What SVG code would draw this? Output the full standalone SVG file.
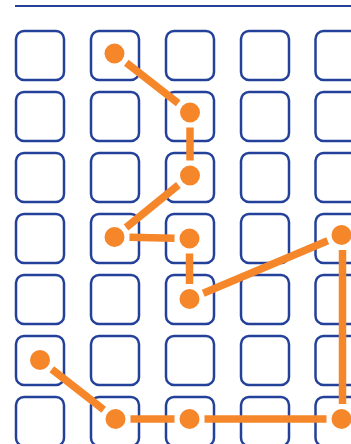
<svg xmlns="http://www.w3.org/2000/svg" width="351" height="444" viewBox="0 0 351 444">
<style>
.cell{fill:none;stroke:#24419a;stroke-width:2.5}
.seg{stroke:#f5862a;stroke-width:7.5;stroke-linecap:butt;fill:none}
.dot{fill:#f5862a}
</style>
<defs>
<rect id="c" width="48" height="49" rx="8" ry="8" class="cell"/>
</defs>
<rect width="351" height="444" fill="#fff"/>
<line x1="15" y1="6" x2="351" y2="6" stroke="#24419a" stroke-width="2.2"/>
<g id="grid">
<g id="row0"><use href="#c" x="16" y="31"/><use href="#c" x="91" y="31"/><use href="#c" x="166" y="31"/><use href="#c" x="241" y="31"/><use href="#c" x="315.5" y="31"/></g>
<g id="row1"><use href="#c" x="16" y="92"/><use href="#c" x="91" y="92"/><use href="#c" x="166" y="92"/><use href="#c" x="241" y="92"/><use href="#c" x="315.5" y="92"/></g>
<g id="row2"><use href="#c" x="16" y="153"/><use href="#c" x="91" y="153"/><use href="#c" x="166" y="153"/><use href="#c" x="241" y="153"/><use href="#c" x="315.5" y="153"/></g>
<g id="row3"><use href="#c" x="16" y="214"/><use href="#c" x="91" y="214"/><use href="#c" x="166" y="214"/><use href="#c" x="241" y="214"/><use href="#c" x="315.5" y="214"/></g>
<g id="row4"><use href="#c" x="16" y="275"/><use href="#c" x="91" y="275"/><use href="#c" x="166" y="275"/><use href="#c" x="241" y="275"/><use href="#c" x="315.5" y="275"/></g>
<g id="row5"><use href="#c" x="16" y="336"/><use href="#c" x="91" y="336"/><use href="#c" x="166" y="336"/><use href="#c" x="241" y="336"/><use href="#c" x="315.5" y="336"/></g>
<g id="row6"><use href="#c" x="16" y="397"/><use href="#c" x="91" y="397"/><use href="#c" x="166" y="397"/><use href="#c" x="241" y="397"/><use href="#c" x="315.5" y="397"/></g>
</g>
<g id="connectors">
<line class="seg" x1="126.3" y1="62.7" x2="178.2" y2="103.3"/>
<line class="seg" x1="190" y1="127.5" x2="190" y2="160.5"/>
<line class="seg" x1="178.4" y1="185" x2="126.1" y2="227.5"/>
<line class="seg" x1="129.5" y1="237.3" x2="174.5" y2="238.2"/>
<line class="seg" x1="189.5" y1="253.5" x2="189.5" y2="284"/>
<line class="seg" x1="203.3" y1="293.2" x2="327.7" y2="240.8"/>
<line class="seg" x1="342.5" y1="250" x2="342.5" y2="404"/>
<line class="seg" x1="326.5" y1="419" x2="204.5" y2="419"/>
<line class="seg" x1="174.5" y1="419" x2="130.5" y2="419"/>
<line class="seg" x1="103.7" y1="409.8" x2="51.8" y2="369.2"/>
</g>
<g id="dots">
<circle id="dA" class="dot" cx="114.5" cy="53.5" r="10"/>
<circle id="dB" class="dot" cx="190" cy="112.5" r="10"/>
<circle id="dC" class="dot" cx="190" cy="175.5" r="10"/>
<circle id="dD" class="dot" cx="114.5" cy="237" r="10"/>
<circle id="dE" class="dot" cx="189.5" cy="238.5" r="10"/>
<circle id="dF" class="dot" cx="189.5" cy="299" r="10"/>
<circle id="dG" class="dot" cx="341.5" cy="235" r="10"/>
<circle id="dH" class="dot" cx="341.5" cy="419" r="10"/>
<circle id="dI" class="dot" cx="189.5" cy="419" r="10"/>
<circle id="dJ" class="dot" cx="115.5" cy="419" r="10"/>
<circle id="dK" class="dot" cx="40" cy="360" r="10"/>
</g>
</svg>
